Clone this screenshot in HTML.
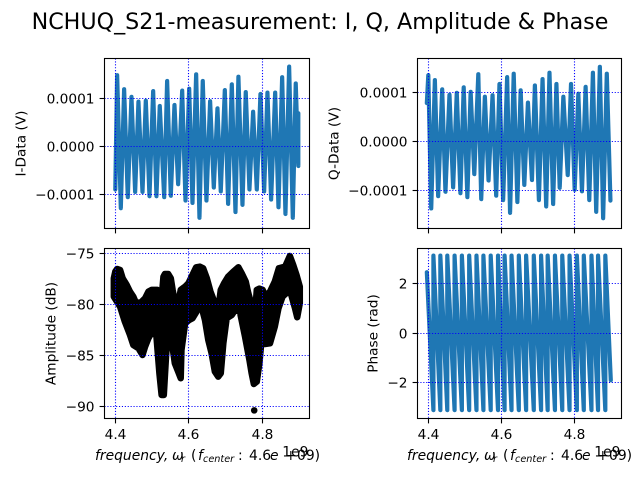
<!DOCTYPE html>
<html>
<head>
<meta charset="utf-8">
<title>NCHUQ_S21-measurement</title>
<style>
html,body{margin:0;padding:0;background:#fff;}
svg{display:block;}
text{font-family:"DejaVu Sans","Liberation Sans",sans-serif;fill:#000;}
</style>
</head>
<body>
<svg id="chart" xmlns="http://www.w3.org/2000/svg" width="640" height="480" viewBox="0 0 640 480">
<rect x="0" y="0" width="640" height="480" fill="#fff"/>
<text x="320" y="29" font-size="22.2" text-anchor="middle">NCHUQ_S21-measurement: I, Q, Amplitude &amp; Phase</text>
</svg>
<script>
// Shared ticks
const freqTicks = [4.4, 4.6, 4.8];
const freqTickLabels = ['4.4', '4.6', '4.8'];
const voltTicks = [1, 0, -1];
const voltTickLabels = ['0.0001', '0.0000', '\u22120.0001'];
const ampTicks = [-75, -80, -85, -90];
const ampTickLabels = ['\u221275', '\u221280', '\u221285', '\u221290'];
const phaseTicks = [2, 0, -2];
const phaseTickLabels = ['2', '0', '\u22122'];

// I-data extremes (GHz, 1e-4 V)
const iFreq = [4.400,4.405,4.415,4.424,4.434,4.444,4.454,4.463,4.474,4.483,4.493,4.503,4.512,4.521,4.533,4.541,4.551,4.561,4.571,4.582,4.591,4.601,4.610,4.620,4.629,4.638,4.648,4.658,4.668,4.678,4.687,4.698,4.707,4.717,4.727,4.735,4.746,4.755,4.765,4.775,4.785,4.795,4.805,4.814,4.824,4.835,4.844,4.854,4.863,4.873,4.883,4.891,4.898,4.898];
const iVolt = [-0.90,1.48,-1.29,1.19,-1.06,1.03,-0.95,0.93,-0.95,0.95,-1.04,1.15,-1.04,0.84,-1.06,1.36,-1.03,0.86,-0.79,1.16,-1.13,1.20,-1.18,1.50,-1.49,1.36,-1.13,0.94,-0.86,0.79,-0.94,1.17,-1.20,1.29,-1.37,1.45,-1.22,1.13,-0.90,0.72,-0.90,1.09,-0.94,1.12,-1.11,1.12,-1.27,1.44,-1.41,1.66,-1.49,1.31,-0.41,0.69];

// Q-data extremes (GHz, 1e-4 V)
const qFreq = [4.396,4.400,4.408,4.418,4.427,4.438,4.447,4.458,4.468,4.478,4.488,4.497,4.507,4.516,4.526,4.537,4.545,4.555,4.565,4.576,4.586,4.595,4.605,4.616,4.624,4.634,4.644,4.653,4.663,4.673,4.684,4.692,4.703,4.713,4.723,4.732,4.742,4.751,4.760,4.770,4.782,4.791,4.801,4.811,4.821,4.831,4.841,4.851,4.860,4.870,4.879,4.889,4.899];
const qVolt = [0.78,1.35,-1.37,1.25,-1.12,1.06,-1.03,0.95,-0.94,0.99,-1.06,1.10,-1.14,1.01,-0.67,1.37,-1.18,0.91,-0.80,0.94,-1.11,1.17,-1.20,1.31,-1.46,1.38,-1.24,1.04,-0.89,0.79,-0.79,1.14,-1.20,1.27,-1.33,1.40,-1.28,1.17,-0.95,0.91,-0.69,1.17,-0.99,0.97,-1.02,1.11,-1.20,1.40,-1.44,1.52,-1.57,1.38,-1.21];

// Amplitude envelope (GHz, dB)
const ampUpperFreq = [4.396,4.400,4.405,4.413,4.420,4.431,4.440,4.449,4.456,4.469,4.481,4.490,4.499,4.514,4.522,4.525,4.531,4.535,4.544,4.551,4.556,4.562,4.569,4.578,4.590,4.599,4.610,4.620,4.630,4.639,4.649,4.659,4.671,4.680,4.687,4.696,4.707,4.721,4.735,4.744,4.755,4.762,4.771,4.780,4.785,4.792,4.801,4.809,4.821,4.834,4.845,4.862,4.875,4.884,4.893,4.902];
const ampUpper = [-77.45,-76.80,-76.54,-76.63,-77.45,-78.10,-78.76,-79.25,-79.84,-79.84,-79.41,-78.76,-78.59,-78.59,-79.41,-79.90,-77.29,-77.03,-77.03,-77.45,-78.59,-79.74,-80.39,-78.59,-78.27,-77.94,-77.12,-76.37,-76.31,-76.47,-77.45,-78.76,-79.90,-80.56,-78.59,-77.94,-77.29,-76.80,-76.37,-76.96,-77.78,-78.92,-80.07,-81.05,-78.59,-78.46,-78.59,-79.25,-78.76,-77.78,-76.47,-76.31,-75.26,-76.14,-77.12,-78.27];
const ampLowerFreq = [4.396,4.413,4.426,4.440,4.449,4.463,4.474,4.481,4.490,4.503,4.512,4.520,4.526,4.532,4.538,4.544,4.553,4.562,4.571,4.578,4.580,4.590,4.601,4.610,4.621,4.630,4.644,4.653,4.662,4.671,4.680,4.687,4.694,4.703,4.717,4.726,4.739,4.753,4.765,4.771,4.777,4.785,4.792,4.798,4.807,4.821,4.834,4.844,4.855,4.875,4.889,4.895,4.902];
const ampLower = [-79.25,-80.23,-81.70,-83.01,-83.99,-84.31,-84.97,-84.15,-83.33,-82.52,-83.17,-86.76,-88.89,-88.89,-85.13,-82.19,-83.50,-85.78,-86.60,-87.25,-84.48,-81.86,-81.54,-81.37,-80.72,-79.58,-81.54,-83.50,-84.80,-86.60,-87.09,-86.76,-83.82,-81.37,-81.05,-80.56,-80.72,-83.17,-85.46,-86.76,-87.81,-87.58,-85.78,-83.50,-83.89,-83.82,-82.19,-80.39,-79.25,-78.59,-80.39,-81.27,-79.90];
const ampOutlierFreq = [4.778];
const ampOutlier = [-90.4];

// Phase wraps (GHz, rad)
const phaseFreq = [4.396,4.414,4.414,4.433,4.433,4.452,4.452,4.472,4.472,4.492,4.492,4.512,4.512,4.532,4.532,4.551,4.551,4.571,4.571,4.591,4.591,4.609,4.609,4.628,4.628,4.648,4.648,4.668,4.668,4.689,4.689,4.709,4.709,4.727,4.727,4.747,4.747,4.767,4.767,4.787,4.787,4.807,4.807,4.826,4.826,4.847,4.847,4.865,4.865,4.885,4.885,4.900];
const phaseRad = [2.45,-3.10,3.12,-3.10,3.12,-3.10,3.12,-3.10,3.12,-3.10,3.12,-3.10,3.12,-3.10,3.12,-3.10,3.12,-3.10,3.12,-3.10,3.12,-3.10,3.12,-3.10,3.12,-3.10,3.12,-3.10,3.12,-3.10,3.12,-3.10,3.12,-3.10,3.12,-3.10,3.12,-3.10,3.12,-3.10,3.12,-3.10,3.12,-3.10,3.12,-3.10,3.12,-3.10,3.12,-3.10,3.12,-1.9];

const NS = 'http://www.w3.org/2000/svg';
const svg = document.getElementById('chart');

function make(tag, parent, name, attrs, txt) {
  const el = document.createElementNS(NS, tag);
  for (const k in attrs) el.setAttribute(k, attrs[k]);
  
  
  if (txt !== undefined) el.textContent = txt;
  parent.appendChild(el);
  return el;
}

function linear(d0, d1, r0, r1) {
  return v => r0 + (v - d0) * (r1 - r0) / (d1 - d0);
}

function linePath(xs, ys, sx, sy) {
  return xs.map((x, i) => (i ? 'L' : 'M') + sx(x).toFixed(2) + ' ' + sy(ys[i]).toFixed(2)).join('');
}

function panel(cfg) {
  const g = make('g', svg, cfg.name, {});
  const sx = linear(4.4, 4.8, cfg.x44, cfg.x48);
  const sy = linear(cfg.yT0, cfg.yT1, cfg.yP0, cfg.yP1);
  cfg.draw(g, sx, sy);
  // grid on top of the data
  freqTicks.forEach((t, i) => {
    const x = Math.floor(sx(t)) + 0.5;
    make('line', g, 'x-grid-line', {x1: x, x2: x, y1: cfg.top, y2: cfg.bottom, stroke: '#0000ff', 'stroke-width': 1.1, 'stroke-dasharray': '1.1 1.8'});
    make('line', g, 'x-tick', {x1: x, x2: x, y1: cfg.bottom, y2: cfg.bottom + 4.9, stroke: '#000', 'stroke-width': 1.1});
    if (cfg.xLabels) {
      make('text', g, 'x-tick-label', {x: x, y: cfg.bottom + 20.5, 'font-size': 13.7, 'text-anchor': 'middle'}, freqTickLabels[i]);
    }
  });
  cfg.yTicks.forEach((t, i) => {
    const y = Math.floor(sy(t)) + 0.5;
    make('line', g, 'y-grid-line', {x1: cfg.left, x2: cfg.right, y1: y, y2: y, stroke: '#0000ff', 'stroke-width': 1.1, 'stroke-dasharray': '1.1 1.8'});
    make('line', g, 'y-tick', {x1: cfg.left - 4.9, x2: cfg.left, y1: y, y2: y, stroke: '#000', 'stroke-width': 1.1});
    make('text', g, 'y-tick-label', {x: cfg.left - 10, y: y + 5, 'font-size': 13.7, 'text-anchor': 'end'}, cfg.yLabels[i]);
  });
  make('rect', g, 'axes-frame', {x: cfg.left, y: cfg.top, width: cfg.right - cfg.left, height: cfg.bottom - cfg.top, fill: 'none', stroke: '#000', 'stroke-width': 1.1});
  make('text', g, 'y-axis-title', {x: 0, y: 0, 'font-size': 13.7, 'text-anchor': 'middle', transform: 'translate(' + cfg.yTitleX + ' ' + (cfg.top + cfg.bottom) / 2 + ') rotate(-90)'}, cfg.yTitle);
  if (cfg.xLabels) {
    const t = make('text', g, 'x-axis-title', {y: 460, 'font-size': 13.89});
    const x0 = cfg.xTitleX;
    const parts = [
      ['frequency,', 'italic', 13.89, 0, 0],
      ['\u03c9', 'italic', 13.89, 0, 77],
      ['r', 'italic', 9.7, 2, 86],
      ['(', 'normal', 13.89, -2, 96],
      ['f', 'italic', 13.89, 0, 103],
      ['center', 'italic', 9.7, 2, 108],
      [':', 'normal', 13.89, -2, 143],
      ['4.6', 'normal', 13.89, 0, 154],
      ['e', 'italic', 13.89, 0, 175],
      ['+', 'normal', 13.89, 0, 190],
      ['09)', 'normal', 13.89, 0, 202]
    ];
    parts.forEach(p => {
      make('tspan', t, 'x-axis-title-part', {'font-style': p[1], 'font-size': p[2], dy: p[3], x: x0 + p[4]}, p[0]);
    });
    make('text', g, 'x-offset-label', {x: cfg.right - 1, y: 456.5, 'font-size': 13.89, 'text-anchor': 'end'}, '1e9');
  }
}

function tracePanel(color, xs, ys, w) {
  return function (g, sx, sy) {
    make('path', g, 'data-trace', {d: linePath(xs, ys, sx, sy), fill: 'none', stroke: color, 'stroke-width': w, 'stroke-linejoin': 'round', 'stroke-linecap': 'round'});
  };
}

panel({
  name: 'i-data-panel', left: 104.5, right: 309.5, top: 58.5, bottom: 228.5,
  x44: 115.3, x48: 262.3, yT0: 1, yT1: -1, yP0: 98.3, yP1: 194.3,
  yTicks: voltTicks, yLabels: voltTickLabels, yTitle: 'I-Data (V)', yTitleX: 25.5, xLabels: false,
  draw: tracePanel('#1f77b4', iFreq, iVolt, 4.2)
});
panel({
  name: 'q-data-panel', left: 417.5, right: 621.5, top: 58.5, bottom: 228.5,
  x44: 428.3, x48: 574.3, yT0: 1, yT1: -1, yP0: 92.3, yP1: 190.3,
  yTicks: voltTicks, yLabels: voltTickLabels, yTitle: 'Q-Data (V)', yTitleX: 338.5, xLabels: false,
  draw: tracePanel('#1f77b4', qFreq, qVolt, 4.2)
});
panel({
  name: 'amplitude-panel', left: 104.5, right: 309.5, top: 248.5, bottom: 418.5,
  x44: 115.3, x48: 262.3, yT0: -75, yT1: -90, yP0: 253.3, yP1: 406.3,
  yTicks: ampTicks, yLabels: ampTickLabels, yTitle: 'Amplitude (dB)', yTitleX: 55.5, xLabels: true, xTitleX: 95,
  draw: function (g, sx, sy) {
    const up = linePath(ampUpperFreq, ampUpper, sx, sy);
    const low = linePath(ampLowerFreq.slice().reverse(), ampLower.slice().reverse(), sx, sy).replace(/^M/, 'L');
    make('path', g, 'amplitude-band', {d: up + low + 'Z', fill: '#000', stroke: '#000', 'stroke-width': 6.5, 'stroke-linejoin': 'round'});
    ampOutlierFreq.forEach((f, i) => {
      make('circle', g, 'amplitude-outlier', {cx: sx(f), cy: sy(ampOutlier[i]), r: 3.3, fill: '#000'});
    });
  }
});
panel({
  name: 'phase-panel', left: 417.5, right: 621.5, top: 248.5, bottom: 418.5,
  x44: 428.3, x48: 574.3, yT0: 2, yT1: -2, yP0: 283.4, yP1: 382.8,
  yTicks: phaseTicks, yLabels: phaseTickLabels, yTitle: 'Phase (rad)', yTitleX: 377.5, xLabels: true, xTitleX: 407,
  draw: tracePanel('#1f77b4', phaseFreq, phaseRad, 4.2)
});
</script>
</body>
</html>
